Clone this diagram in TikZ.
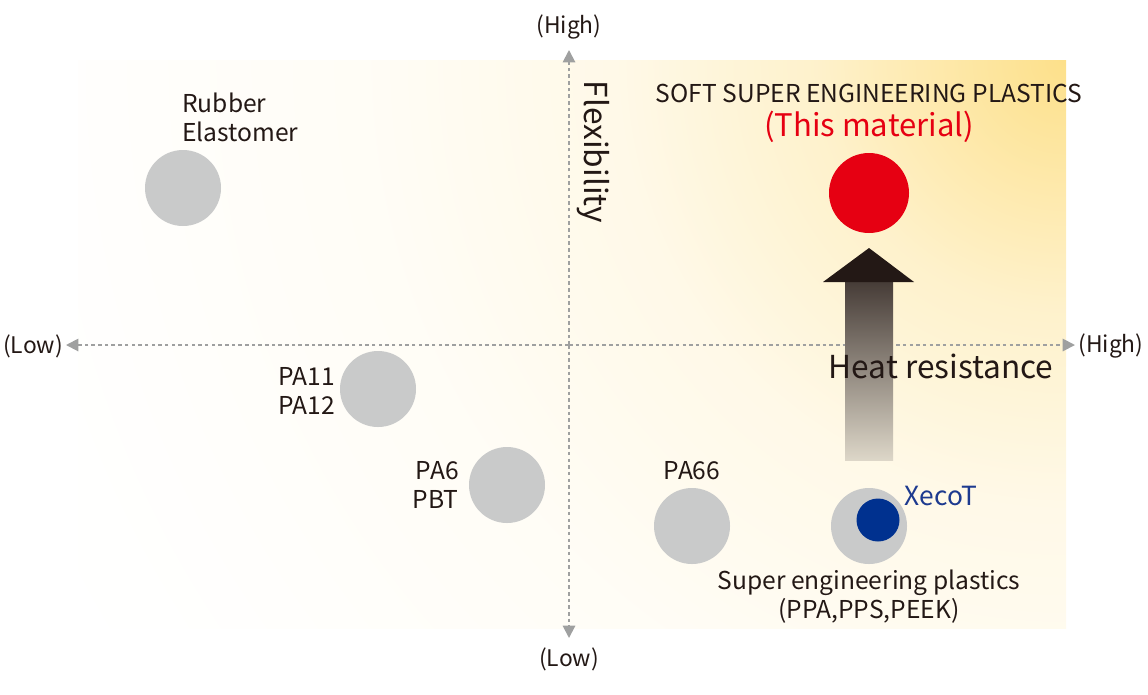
\documentclass[tikz,border=0pt]{standalone}
\usepackage{fontspec}
\setmainfont{Noto Sans CJK JP}
\usetikzlibrary{arrows.meta}
\definecolor{inkc}{HTML}{231815}
\definecolor{axisc}{HTML}{9FA0A0}
\definecolor{dotc}{HTML}{C9CACA}
\definecolor{redc}{HTML}{E60012}
\definecolor{bluec}{HTML}{00318F}
\definecolor{xecoc}{HTML}{1D3A8F}
\definecolor{yelc}{HTML}{FDE08A}
% background glow, stops in absolute size (1 unit = 0.565bp)
\pgfdeclareradialshading{bgshade}{\pgfpoint{0bp}{0bp}}{%
  color(0bp)=(yelc); color(56bp)=(yelc!78!white); color(141bp)=(yelc!44!white);
  color(254bp)=(yelc!20!white); color(395bp)=(yelc!8!white);
  color(560bp)=(yelc!2!white); color(650bp)=(white)}
\tikzset{
  material/.style={circle, fill=dotc, minimum size=76*0.02cm, inner sep=0pt},
  label/.style={text=inkc, font=\fontsize{14}{16.4}\selectfont, inner sep=0pt},
  axislabel/.style={text=inkc, font=\fontsize{13}{15}\selectfont, inner sep=0pt},
  axisline/.style={axisc, line width=1.1pt, dash pattern=on 2pt off 1.8pt,
    -{Triangle[length=7pt, width=7pt]}}
}
\begin{document}
\begin{tikzpicture}[x=0.02cm, y=-0.02cm]
  \useasboundingbox (0,0) rectangle (1148,694);
  % background
  \begin{scope}
    \clip (78,60) rectangle (1066,628);
    \node[inner sep=0pt] (glow) at (1066,60) {\pgfuseshading{bgshade}};
  \end{scope}

  % axes
  \coordinate (xo) at (569,345);
  \coordinate (xl) at (66,345);
  \coordinate (xr) at (1075,345);
  \coordinate (yt) at (569,50);
  \coordinate (yb) at (569,638);
  \draw[axisline] (xo) -- (xl);
  \draw[axisline] (xo) -- (xr);
  \draw[axisline] (xo) -- (yt);
  \draw[axisline] (xo) -- (yb);
  \node[axislabel] (ytop) at (569,27) {(High)};
  \node[axislabel] (ybot) at (569,659) {(Low)};
  \node[axislabel] (xleft) at (33,346) {(Low)};
  \node[axislabel] (xright) at (1111,346) {(High)};
  \node[label, rotate=-90, font=\fontsize{18}{20}\selectfont] (flex) at (593,152) {Flexibility};

  % heat resistance arrow
  \begin{scope}
    \clip (845,282) rectangle (893,460);
    \shade[top color=inkc, bottom color=yelc!19!white] (845,240) rectangle (893,500);
  \end{scope}
  \fill[inkc] (823,282) -- (869,248) -- (914,282) -- cycle;
  \node[label, font=\fontsize{18}{22}\selectfont] (heat) at (941,366) {Heat resistance};

  % materials
  \node[material] (rubber) at (183,188) {};
  \node[material] (pa11) at (378,389) {};
  \node[material] (pa6) at (507,485) {};
  \node[material] (pa66) at (692,526) {};
  \node[material] (super) at (869,526) {};
  \node[circle, fill=bluec, minimum size=43*0.02cm, inner sep=0pt] (xecot) at (878,520) {};
  \node[circle, fill=redc, minimum size=80*0.02cm, inner sep=0pt] (soft) at (869,193) {};

  % labels
  \node[label, anchor=west, align=left] (rubbertxt) at (182,117) {Rubber\\Elastomer};
  \node[label, anchor=east, align=right] (pa11txt) at (335,391) {PA11\\PA12};
  \node[label, anchor=east, align=right] (pa6txt) at (459,485) {PA6\\PBT};
  \node[label] (pa66txt) at (692,471) {PA66};
  \node[label, text=xecoc, font=\fontsize{15}{18}\selectfont] (xecottxt) at (941,496) {XecoT};
  \node[label, align=center] (supertxt) at (869,597) {Super engineering plastics\\(PPA,PPS,PEEK)};
  \node[label] (softtxt) at (869,93) {SOFT SUPER ENGINEERING PLASTICS};
  \node[label, text=redc, font=\fontsize{17.7}{20}\selectfont] (thistxt) at (869,127) {(This material)};
\end{tikzpicture}
\end{document}
